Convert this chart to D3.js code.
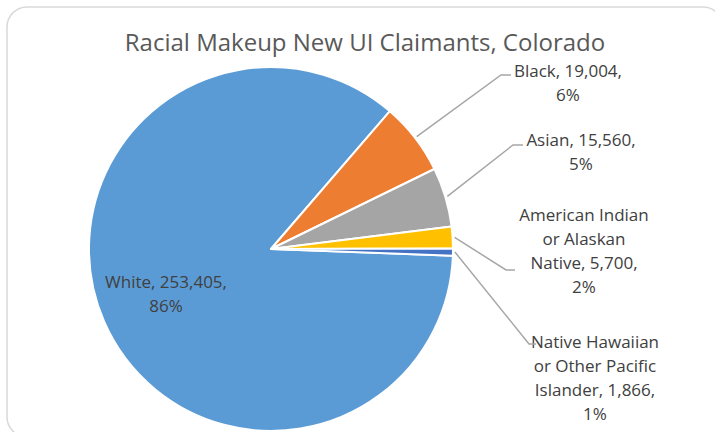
<!DOCTYPE html>
<html><head><meta charset="utf-8">
<script src="https://cdn.jsdelivr.net/npm/d3@7"></script>
<style>body{margin:0;background:#fff}svg{display:block}</style>
</head><body>
<svg id="c" width="715" height="432"></svg>
<script>
const categories = ["White", "Black", "Asian", "American Indian or Alaskan Native", "Native Hawaiian or Other Pacific Islander"];
const values = [253405, 19004, 15560, 5700, 1866];
const colors = ["#5b9bd5", "#ed7d31", "#a5a5a5", "#ffc000", "#4472c4"];
const title = "Racial Makeup New UI Claimants, Colorado";
// label line breaks (text content)
const labelLines = [
  ["White, 253,405,", "86%"],
  ["Black, 19,004,", "6%"],
  ["Asian, 15,560,", "5%"],
  ["American Indian", "or Alaskan", "Native, 5,700,", "2%"],
  ["Native Hawaiian", "or Other Pacific", "Islander, 1,866,", "1%"]
];

const svg = d3.select("#c");
const cx = 271, cy = 249, R = 182;
const font = "'Open Sans', 'Noto Sans', sans-serif";

svg.append("rect").attr("x", 7).attr("y", 7).attr("width", 716).attr("height", 430)
  .attr("rx", 20).attr("fill", "#fff").attr("stroke", "#d9d9d9").attr("stroke-width", 1.5);

svg.append("text").attr("x", 365).attr("y", 51).attr("text-anchor", "middle")
  .attr("font-family", font).attr("font-size", 24).attr("fill", "#595959").text(title);

const total = d3.sum(values);
const start = 92.1 * Math.PI / 180;
const pie = d3.pie().sort(null).startAngle(start).endAngle(start + 2 * Math.PI);
const arcs = pie(values);
const arc = d3.arc().innerRadius(0).outerRadius(R);
const g = svg.append("g").attr("transform", `translate(${cx},${cy})`);
g.selectAll("path").data(arcs).join("path")
  .attr("d", arc).attr("fill", (d, i) => colors[i])
  .attr("stroke", "#fff").attr("stroke-width", 2).attr("stroke-linejoin", "round");

// label layout: [centerX, firstLineY, [elbowX, elbowY, tickEndX]]
const layout = [
  [166, 288, null],
  [568, 77, [501, 75, 511]],
  [581, 146, [513, 145, 523]],
  [584, 221, [506, 270, 515]],
  [595, 348, [529, 344, 536]]
];
const lh = 24;
const pct = d3.format(".0%");
arcs.forEach((a, i) => {
  const [lx, ly, el] = layout[i];
  const lines = labelLines[i].slice(0, -1).concat([pct(values[i] / total)]);
  const t = svg.append("text").attr("font-family", font).attr("font-size", 17)
    .attr("fill", "#404040").attr("text-anchor", "middle");
  lines.forEach((s, k) => t.append("tspan").attr("x", lx).attr("y", ly + k * lh).text(s));
  if (el) {
    const m = (a.startAngle + a.endAngle) / 2;
    const r0 = R + 2;
    const sx = cx + r0 * Math.sin(m), sy = cy - r0 * Math.cos(m);
    svg.append("polyline").attr("points", `${sx},${sy} ${el[0]},${el[1]} ${el[2]},${el[1]}`)
      .attr("fill", "none").attr("stroke", "#a6a6a6").attr("stroke-width", 1.5);
  }
});
</script>
</body></html>
